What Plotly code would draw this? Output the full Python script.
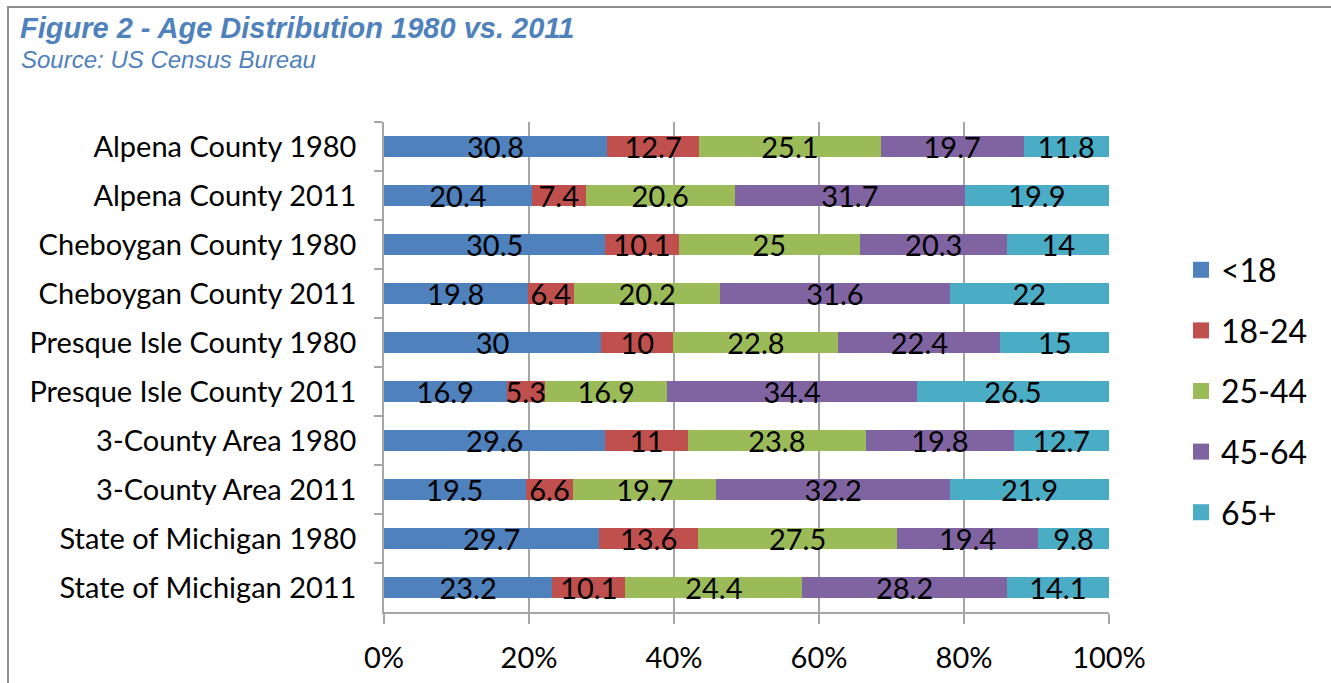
import plotly.graph_objects as go

categories = [
    "Alpena County 1980", "Alpena County 2011",
    "Cheboygan County 1980", "Cheboygan County 2011",
    "Presque Isle County 1980", "Presque Isle County 2011",
    "3-County Area 1980", "3-County Area 2011",
    "State of Michigan 1980", "State of Michigan 2011",
]
series_names = ["<18", "18-24", "25-44", "45-64", "65+"]
under18 = [30.8, 20.4, 30.5, 19.8, 30.0, 16.9, 29.6, 19.5, 29.7, 23.2]
age18_24 = [12.7, 7.4, 10.1, 6.4, 10.0, 5.3, 11.0, 6.6, 13.6, 10.1]
age25_44 = [25.1, 20.6, 25.0, 20.2, 22.8, 16.9, 23.8, 19.7, 27.5, 24.4]
age45_64 = [19.7, 31.7, 20.3, 31.6, 22.4, 34.4, 19.8, 32.2, 19.4, 28.2]
age65p = [11.8, 19.9, 14.0, 22.0, 15.0, 26.5, 12.7, 21.9, 9.8, 14.1]
colors = ["#4F81BD", "#C0504D", "#9BBB59", "#8064A2", "#4BACC6"]
series_values = [under18, age18_24, age25_44, age45_64, age65p]
x_tickvals = [0, 20, 40, 60, 80, 100]
x_ticktext = ["0%", "20%", "40%", "60%", "80%", "100%"]

FONT = "Lato"
FIG_W, FIG_H = 1331, 683
fig = go.Figure()
for name, vals, col in zip(series_names, series_values, colors):
    fig.add_trace(go.Bar(
        y=categories, x=vals, name=name, orientation="h",
        marker=dict(color=col, line=dict(width=0)),
        text=[f"{v:g}" for v in vals], textposition="inside", textangle=0,
        insidetextanchor="middle", constraintext="none",
        textfont=dict(family=FONT, size=29, color="black"),
        showlegend=False, legendgroup=name, hoverinfo="x+y",
    ))
    fig.add_trace(go.Scatter(
        x=[None], y=[None], mode="markers", name=name, legendgroup=name,
        marker=dict(symbol="square", size=16, color=col, line=dict(width=0)),
        showlegend=True,
    ))

L, T = 384, 122
R, B = FIG_W - 1109, FIG_H - 612
W, H = FIG_W - L - R, FIG_H - T - B

fig.update_layout(
    width=FIG_W, height=FIG_H,
    barmode="stack", barnorm="percent", bargap=0.59,
    margin=dict(l=L, r=R, t=T, b=B, pad=0, autoexpand=False),
    paper_bgcolor="white", plot_bgcolor="white",
    font=dict(family=FONT, size=29, color="black"),
    legend=dict(
        x=(1181 - L) / W, xanchor="left", y=1 - (391 - T) / H, yanchor="middle",
        font=dict(family=FONT, size=32, color="black"),
        traceorder="grouped", tracegroupgap=16, itemwidth=30,
        bgcolor="rgba(0,0,0,0)",
    ),
    showlegend=True,
)
fig.update_xaxes(
    range=[0, 100], tickvals=x_tickvals, ticktext=x_ticktext,
    showgrid=True, gridcolor="#A6A6A6", gridwidth=1.5,
    showline=True, linecolor="#A6A6A6", linewidth=1.5,
    ticks="outside", ticklen=10, tickcolor="#A6A6A6", tickwidth=1.5,
    ticklabelstandoff=9, zeroline=False, automargin=False,
    tickfont=dict(family=FONT, size=29),
)
fig.update_yaxes(
    autorange="reversed", type="category",
    showline=True, linecolor="#A6A6A6", linewidth=1.5,
    ticks="outside", tickson="boundaries", ticklen=8, tickcolor="#A6A6A6", tickwidth=1.5,
    ticklabelstandoff=20, showgrid=False, automargin=False,
    tickfont=dict(family=FONT, size=29),
)
# outer frame (chart border)
fig.add_shape(type="rect", xref="paper", yref="paper",
              x0=(8 - L) / W, x1=(1360 - L) / W,
              y0=-(720 - 612) / H, y1=1 + (T - 7) / H,
              line=dict(color="#8C8C8C", width=2), fillcolor="rgba(0,0,0,0)", layer="below")
fig.add_annotation(text="<b><i>Figure 2 - Age Distribution 1980 vs. 2011</i></b>",
                   xref="paper", yref="paper", x=(18 - L) / W, y=1 + (T - 10) / H,
                   xanchor="left", yanchor="top", showarrow=False,
                   font=dict(family="Liberation Sans", size=29, color="#4F81BD"))
fig.add_annotation(text="<i>Source: US Census Bureau</i>",
                   xref="paper", yref="paper", x=(19 - L) / W, y=1 + (T - 44) / H,
                   xanchor="left", yanchor="top", showarrow=False,
                   font=dict(family="Liberation Sans", size=24, color="#4F81BD"))
fig.write_html("out.html", config={"displayModeBar": False},
               post_script="document.body.style.margin='0px';")
